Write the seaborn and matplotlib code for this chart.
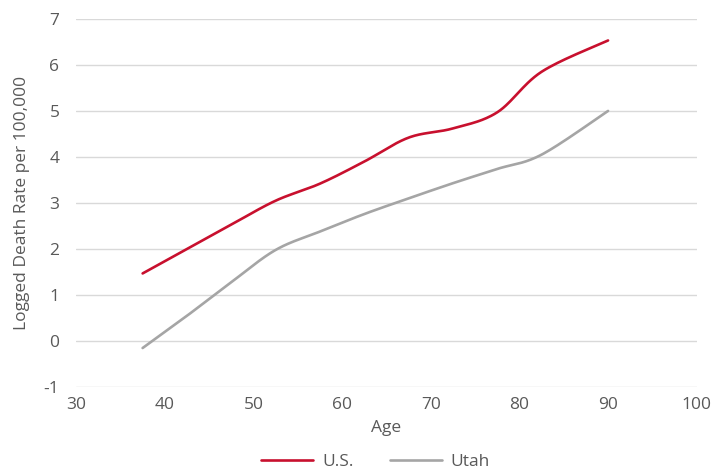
import numpy as np
import pandas as pd
import matplotlib
matplotlib.use("Agg")
import matplotlib.pyplot as plt
from matplotlib.lines import Line2D
import seaborn as sns

ages = [37.5, 42.5, 47.5, 52.5, 57.5, 62.5, 67.5, 72.5, 77.5, 82.5, 90]
us = [1.47, 2.0, 2.53, 3.05, 3.42, 3.9, 4.42, 4.62, 4.97, 5.85, 6.53]
utah = [-0.15, 0.55, 1.28, 1.98, 2.38, 2.76, 3.1, 3.43, 3.74, 4.05, 5.0]
series_names = ["U.S.", "Utah"]
colors = ["#C8102E", "#A5A5A5"]
xticks = [30, 40, 50, 60, 70, 80, 90, 100]
yticks = [-1, 0, 1, 2, 3, 4, 5, 6, 7]


def smooth(x, y, n=30):
    # Excel-style smoothed line: cubic Bezier segments with Catmull-Rom control points
    x = np.asarray(x, float)
    y = np.asarray(y, float)
    px = np.concatenate([[x[0]], x, [x[-1]]])
    py = np.concatenate([[y[0]], y, [y[-1]]])
    xs, ys = [], []
    t = np.linspace(0, 1, n)
    for i in range(1, len(px) - 2):
        p0 = np.array([px[i], py[i]])
        p3 = np.array([px[i + 1], py[i + 1]])
        c1 = p0 + (np.array([px[i + 1], py[i + 1]]) - np.array([px[i - 1], py[i - 1]])) / 6
        c2 = p3 - (np.array([px[i + 2], py[i + 2]]) - np.array([px[i], py[i]])) / 6
        b = ((1 - t) ** 3)[:, None] * p0 + (3 * (1 - t) ** 2 * t)[:, None] * c1 \
            + (3 * (1 - t) * t ** 2)[:, None] * c2 + (t ** 3)[:, None] * p3
        if i > 1:
            b = b[1:]
        xs.extend(b[:, 0])
        ys.extend(b[:, 1])
    return xs, ys


frames = []
for name, vals in zip(series_names, [us, utah]):
    sx, sy = smooth(ages, vals)
    frames.append(pd.DataFrame({"Age": sx, "Value": sy, "Series": name}))
df = pd.concat(frames, ignore_index=True)

sns.set_theme(style="white")
plt.rcParams["font.family"] = ["Open Sans", "DejaVu Sans"]

fig = plt.figure(figsize=(7.25, 4.71), dpi=100)
ax = fig.add_axes([0.105, 0.178, 0.856, 0.782])

sns.lineplot(data=df, x="Age", y="Value", hue="Series", palette=colors,
             sort=False, estimator=None, units="Series", linewidth=1.9, ax=ax,
             legend=False)

ax.set_xlim(30, 100)
ax.set_ylim(-1, 7)
ax.set_xticks(xticks)
ax.set_yticks(yticks)
ax.set_xticklabels([str(v) for v in xticks])
ax.set_yticklabels([str(v) for v in yticks])
ax.yaxis.grid(True, color="#D9D9D9", linewidth=1.0)
ax.xaxis.grid(False)
ax.set_axisbelow(True)
for s in ax.spines.values():
    s.set_visible(False)
fs = 12.5
ax.tick_params(axis="both", length=0, labelsize=fs, labelcolor="#595959")
ax.tick_params(axis="x", pad=7)
ax.tick_params(axis="y", pad=12)
ax.set_xlabel("Age", fontsize=fs, color="#595959", labelpad=5)
ax.set_ylabel("Logged Death Rate per 100,000", fontsize=fs, color="#595959", labelpad=10)

handles = [Line2D([0], [0], color=c, linewidth=1.9) for c in colors]
fig.legend(handles, series_names, loc="center", bbox_to_anchor=(0.518, 0.02),
           ncol=2, frameon=False, fontsize=fs, handlelength=3.0, handletextpad=0.5,
           columnspacing=2.1, labelcolor="#595959")

fig.savefig("out.png", dpi=100)
